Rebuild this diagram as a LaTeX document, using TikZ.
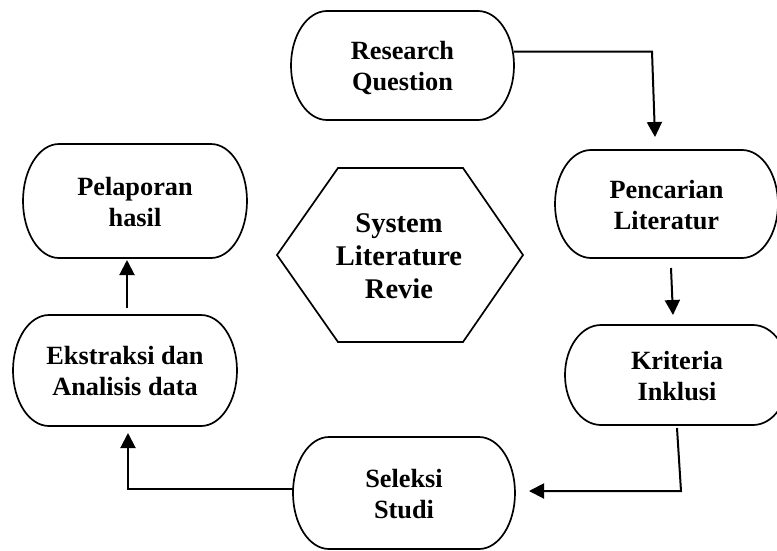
\documentclass[tikz,border=0pt]{standalone}
\usepackage{fontspec}
\setmainfont{Liberation Serif}
\usetikzlibrary{arrows.meta,calc}
\tikzset{
  txt/.style={draw=none,rectangle,inner sep=0pt,outer sep=0pt,align=center,
    font=\fontsize{26.3pt}{31pt}\selectfont\bfseries},
  hextxt/.style={txt,font=\fontsize{28.5pt}{33pt}\selectfont\bfseries},
  outline/.style={line width=1.7pt},
  arr/.style={line width=2pt,-{Triangle[length=15pt,width=15pt]}}
}
\newcommand\termbox[6]{%
  \node[txt,minimum width=#4pt,minimum height=#5pt] (#1) at (#2,#3) {};
  \node[txt] (#1t) at ([yshift=-3.5pt]#1.center) {\strut #6\strut};
  \draw[outline] ([xshift=36pt]#1.north west) -- ([xshift=-36pt]#1.north east)
    arc[start angle=90,end angle=-90,x radius=36pt,y radius=#5pt/2]
    -- ([xshift=36pt]#1.south west)
    arc[start angle=270,end angle=90,x radius=36pt,y radius=#5pt/2] -- cycle;}
\begin{document}
\begin{tikzpicture}[x=1pt,y=-1pt]
\useasboundingbox (0,0) rectangle (777,550);
\clip (0,0) rectangle (777,550);
\termbox{rq}{402.5}{65.5}{223}{109}{Research\\Question}
\termbox{pc}{666.5}{204}{223}{108}{Pencarian\\Literatur}
\termbox{kr}{677}{375}{224}{100}{Kriteria\\Inklusi}
\termbox{sl}{404}{493}{222}{112}{Seleksi\\Studi}
\termbox{ek}{125}{370.5}{224}{111}{Ekstraksi dan\\Analisis data}
\termbox{pl}{135}{201}{224}{114}{Pelaporan\\hasil}
% hexagon
\node[hextxt] (slr) at (399,258.5) {\strut System\\Literature\\Revie\strut};
\draw[outline] (338,168) -- (463,168) -- (523,255) -- (463,342) -- (338,342) -- (277,255) -- cycle;
% connectors
\draw[arr] ([yshift=14pt]rq.east) -- ++(138,0) -- ([xshift=-11.5pt,yshift=13pt]pc.north);
\draw[arr] ([xshift=4.5pt,yshift=-10pt]pc.south) -- ([xshift=-4pt,yshift=10pt]kr.north);
\coordinate (c1) at ([xshift=14pt,yshift=2pt]sl.east);
\draw[arr] ([yshift=-3pt]kr.south) -- ([xshift=4pt]kr.south |- c1) -- (c1);
\draw[arr] ([yshift=4pt]sl.west) -| ([xshift=3pt,yshift=-7pt]ek.south);
\draw[arr] ([xshift=2pt,yshift=7pt]ek.north) -- ([xshift=-8pt,yshift=-2pt]pl.south);
\end{tikzpicture}
\end{document}
